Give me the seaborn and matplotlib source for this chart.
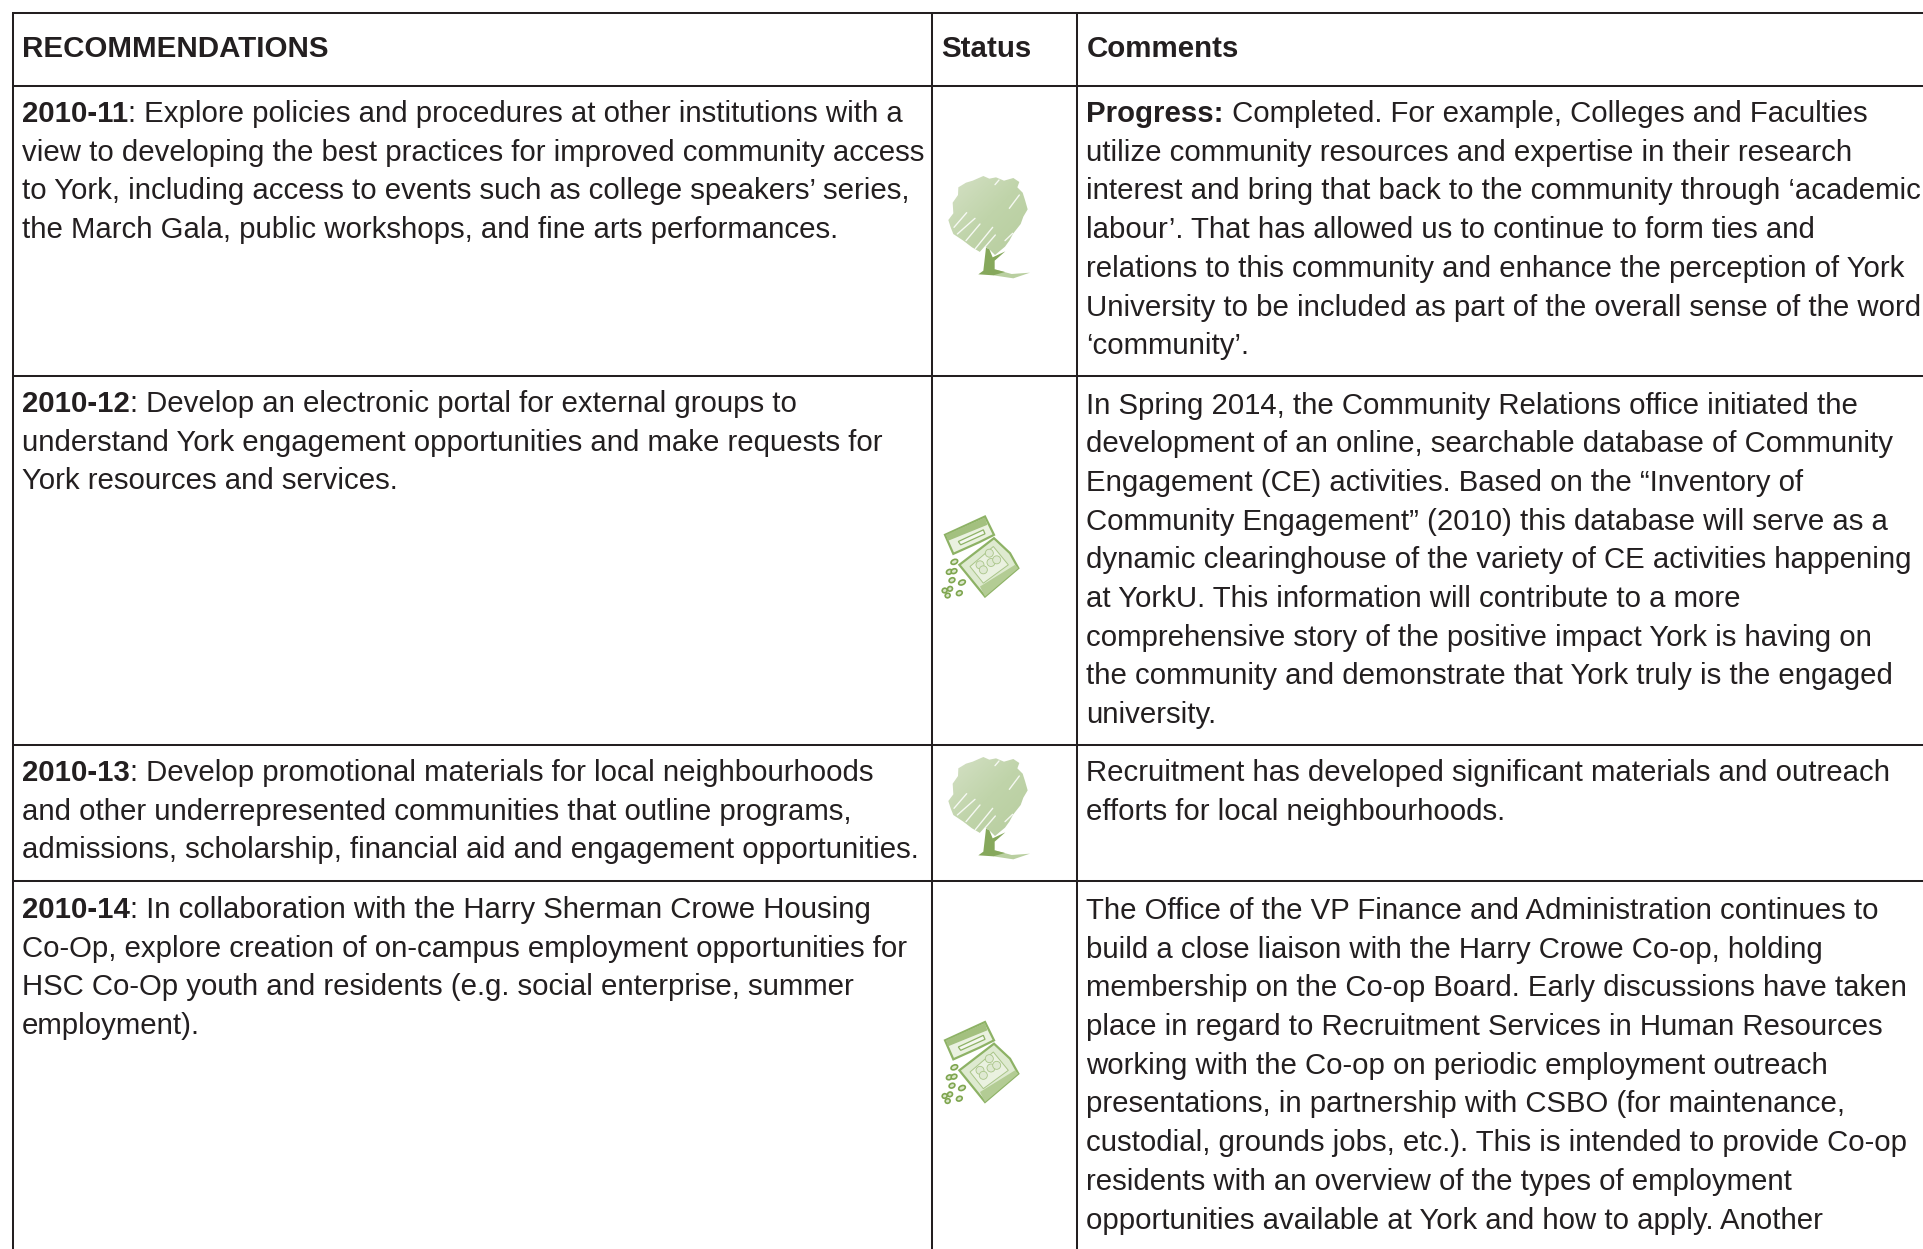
import numpy as np
import matplotlib
matplotlib.use('Agg')
import matplotlib.pyplot as plt
from matplotlib.colors import LinearSegmentedColormap
from matplotlib.patches import Polygon, Ellipse
import seaborn as sns

# table content
headers = ['RECOMMENDATIONS', 'Status', 'Comments']
row_ids = ['2010-11', '2010-12', '2010-13', '2010-14']
recommendations = [
    [': Explore policies and procedures at other institutions with a',
     'view to developing the best practices for improved community access',
     'to York, including access to events such as college speakers’ series,',
     'the March Gala, public workshops, and fine arts performances.'],
    [': Develop an electronic portal for external groups to',
     'understand York engagement opportunities and make requests for',
     'York resources and services.'],
    [': Develop promotional materials for local neighbourhoods',
     'and other underrepresented communities that outline programs,',
     'admissions, scholarship, financial aid and engagement opportunities.'],
    [': In collaboration with the Harry Sherman Crowe Housing',
     'Co-Op, explore creation of on-campus employment opportunities for',
     'HSC Co-Op youth and residents (e.g. social enterprise, summer',
     'employment).'],
]
statuses = ['tree', 'seeds', 'tree', 'seeds']
comment_leads = ['Progress:', '', '', '']
comments = [
    [' Completed. For example, Colleges and Faculties',
     'utilize community resources and expertise in their research',
     'interest and bring that back to the community through ‘academic',
     'labour’. That has allowed us to continue to form ties and',
     'relations to this community and enhance the perception of York',
     'University to be included as part of the overall sense of the word',
     '‘community’.'],
    ['In Spring 2014, the Community Relations office initiated the',
     'development of an online, searchable database of Community',
     'Engagement (CE) activities. Based on the “Inventory of',
     'Community Engagement” (2010) this database will serve as a',
     'dynamic clearinghouse of the variety of CE activities happening',
     'at YorkU. This information will contribute to a more',
     'comprehensive story of the positive impact York is having on',
     'the community and demonstrate that York truly is the engaged',
     'university.'],
    ['Recruitment has developed significant materials and outreach',
     'efforts for local neighbourhoods.'],
    ['The Office of the VP Finance and Administration continues to',
     'build a close liaison with the Harry Crowe Co-op, holding',
     'membership on the Co-op Board. Early discussions have taken',
     'place in regard to Recruitment Services in Human Resources',
     'working with the Co-op on periodic employment outreach',
     'presentations, in partnership with CSBO (for maintenance,',
     'custodial, grounds jobs, etc.). This is intended to provide Co-op',
     'residents with an overview of the types of employment',
     'opportunities available at York and how to apply. Another'],
]

INK = '#231f20'
FS = 21.16
FS_HEAD = 21.25
PITCH = 38.7
COL_X = [22, 941.5, 1086.5]
RULE_Y = [13, 85.5, 375.5, 744.5, 880.5]
RULE_X = [12.5, 932, 1077]
FIRST_BASE_LEFT = [122, 412, 781, 918]
FIRST_BASE_RIGHT = [122, 413.5, 781, 919]
ICON_Y = {0: 150, 1: 501.5, 2: 731, 3: 1007}

TREE_CROWN = [(128, 92), (160, 78), (178, 86), (198, 82), (222, 92), (250, 84), (268, 96), (262, 112),
              (278, 128), (285, 150), (293, 178), (280, 200), (272, 222), (250, 250), (238, 272),
              (225, 290), (195, 315), (180, 300), (165, 290), (150, 306), (126, 292), (100, 272),
              (70, 252), (62, 232), (55, 210), (70, 190), (68, 158), (84, 135), (85, 112), (108, 98)]
TREE_CUTS = [((238, 175), (268, 135)), ((195, 104), (207, 90)), ((72, 232), (110, 188)),
             ((82, 252), (135, 205)), ((108, 272), (150, 222)), ((136, 296), (188, 232)),
             ((152, 306), (196, 255)), ((225, 272), (248, 250))]
TREE_TRUNK = [(168, 293), (178, 298), (188, 322), (226, 304), (194, 332), (194, 358), (225, 366),
              (190, 376), (145, 373), (160, 362)]
TREE_ROOT = [(194, 358), (245, 372), (300, 368), (250, 385), (190, 376)]


def plot_text_line(ax, renderer, x, y, parts):
    for txt, weight in parts:
        t = ax.text(x, y, txt, fontsize=FS, fontweight=weight, color=INK, va='baseline', ha='left')
        x = t.get_window_extent(renderer).x1


def draw_tree(ax, oy):
    pts = [(930 + px / 3, oy + py / 3) for px, py in TREE_CROWN]
    crown = Polygon(pts, closed=True, fc='none', ec='none')
    ax.add_patch(crown)
    cmap = LinearSegmentedColormap.from_list('crown', ['#d5e1c6', '#c0d4aa', '#b7cd9e'])
    grad = np.linspace(0, 1, 64)[None, :] + np.linspace(0, 1, 64)[:, None]
    img = ax.imshow(grad, cmap=cmap, extent=(948, 1028, oy + 106, oy + 26), aspect='auto', zorder=2)
    img.set_clip_path(crown)
    for a, b in TREE_CUTS:
        ax.plot([930 + a[0] / 3, 930 + b[0] / 3], [oy + a[1] / 3, oy + b[1] / 3],
                color='white', lw=1.0, alpha=0.85, zorder=3)
    trunk = [(930 + px / 3, oy + py / 3) for px, py in TREE_TRUNK]
    ax.add_patch(Polygon(trunk, closed=True, fc='#86a85c', ec='none', zorder=4))
    root = [(930 + px / 3, oy + py / 3) for px, py in TREE_ROOT]
    ax.add_patch(Polygon(root, closed=True, fc='#b9cfa0', ec='none', zorder=3))


def draw_seeds(ax, oy):
    def xy(pts):
        return [(930 + px / 3, oy + py / 3) for px, py in pts]
    green = '#8db265'
    ax.add_patch(Polygon(xy([(45, 100), (165, 45), (192, 100), (148, 122), (70, 157)]), closed=True,
                         fc='#eaf1e0', ec=green, lw=1.6, zorder=3))
    ax.add_patch(Polygon(xy([(48, 100), (165, 48), (172, 70), (54, 118)]), closed=True, fc='#a3c07f', ec='none', zorder=3))
    ax.add_patch(Polygon(xy([(85, 120), (160, 85), (165, 97), (92, 130)]), closed=True, fc='#f4f7ef', ec=green, lw=0.9, zorder=4))
    ax.add_patch(Polygon(xy([(88, 190), (192, 110), (240, 155), (265, 200), (165, 285)]), closed=True,
                         fc='#deead0', ec=green, lw=1.6, zorder=3))
    ax.add_patch(Polygon(xy([(120, 195), (190, 135), (235, 190), (160, 245)]), closed=True, fc='#eaf1e0', ec='#a9c588', lw=0.7, zorder=4))
    ax.add_patch(Polygon(xy([(150, 255), (255, 190), (265, 200), (165, 285)]), closed=True, fc='#b3cc94', ec='none', zorder=4))
    for cx, cy in [(150, 190), (178, 155), (183, 183), (160, 205), (200, 175)]:
        c = xy([(cx, cy)])[0]
        ax.add_patch(Ellipse(c, 8, 8, fc='#dfe9d2', ec='#a9c588', lw=0.6, zorder=5))
    for cx, cy, w in [(73, 181, 7), (58, 211, 6), (72, 209, 6), (66, 236, 6), (96, 243, 7),
                      (44, 267, 5), (60, 262, 5), (53, 282, 5), (88, 275, 6)]:
        c = xy([(cx, cy)])[0]
        ax.add_patch(Ellipse(c, w, 4.5, angle=-25, fc='#dce8cd', ec='#7fa650', lw=1.2, zorder=5))


def main():
    sns.set_theme(style='white')
    plt.rcParams['font.family'] = ['Liberation Sans', 'DejaVu Sans']

    fig = plt.figure(figsize=(19.23, 12.49), dpi=100)
    ax = fig.add_axes([0, 0, 1, 1])
    ax.set_axis_off()
    sns.despine(ax=ax, left=True, bottom=True)

    for y in RULE_Y:
        ax.hlines(y, RULE_X[0] - 1, 1923, color=INK, lw=1.45, zorder=1)
    for x in RULE_X:
        ax.vlines(x, RULE_Y[0], 1249, color=INK, lw=1.45, zorder=1)

    fig.canvas.draw()
    renderer = fig.canvas.get_renderer()
    ax.set_xlim(0, 1923)
    ax.set_ylim(1249, 0)

    for x, h in zip(COL_X, headers):
        ax.text(x, 57, h, fontsize=FS_HEAD, fontweight='bold', color=INK, va='baseline', ha='left')

    for i in range(len(row_ids)):
        for j, line in enumerate(recommendations[i]):
            parts = [(row_ids[i], 'bold'), (line, 'normal')] if j == 0 else [(line, 'normal')]
            plot_text_line(ax, renderer, COL_X[0], FIRST_BASE_LEFT[i] + j * PITCH, parts)
        for j, line in enumerate(comments[i]):
            if j == 0 and comment_leads[i]:
                parts = [(comment_leads[i], 'bold'), (line, 'normal')]
            else:
                parts = [(line, 'normal')]
            plot_text_line(ax, renderer, COL_X[2], FIRST_BASE_RIGHT[i] + j * PITCH, parts)
        if statuses[i] == 'tree':
            draw_tree(ax, ICON_Y[i])
        else:
            draw_seeds(ax, ICON_Y[i])

    ax.set_xlim(0, 1923)
    ax.set_ylim(1249, 0)
    fig.savefig('out.png', dpi=100)
    plt.close(fig)


if __name__ == "__main__":
    main()
